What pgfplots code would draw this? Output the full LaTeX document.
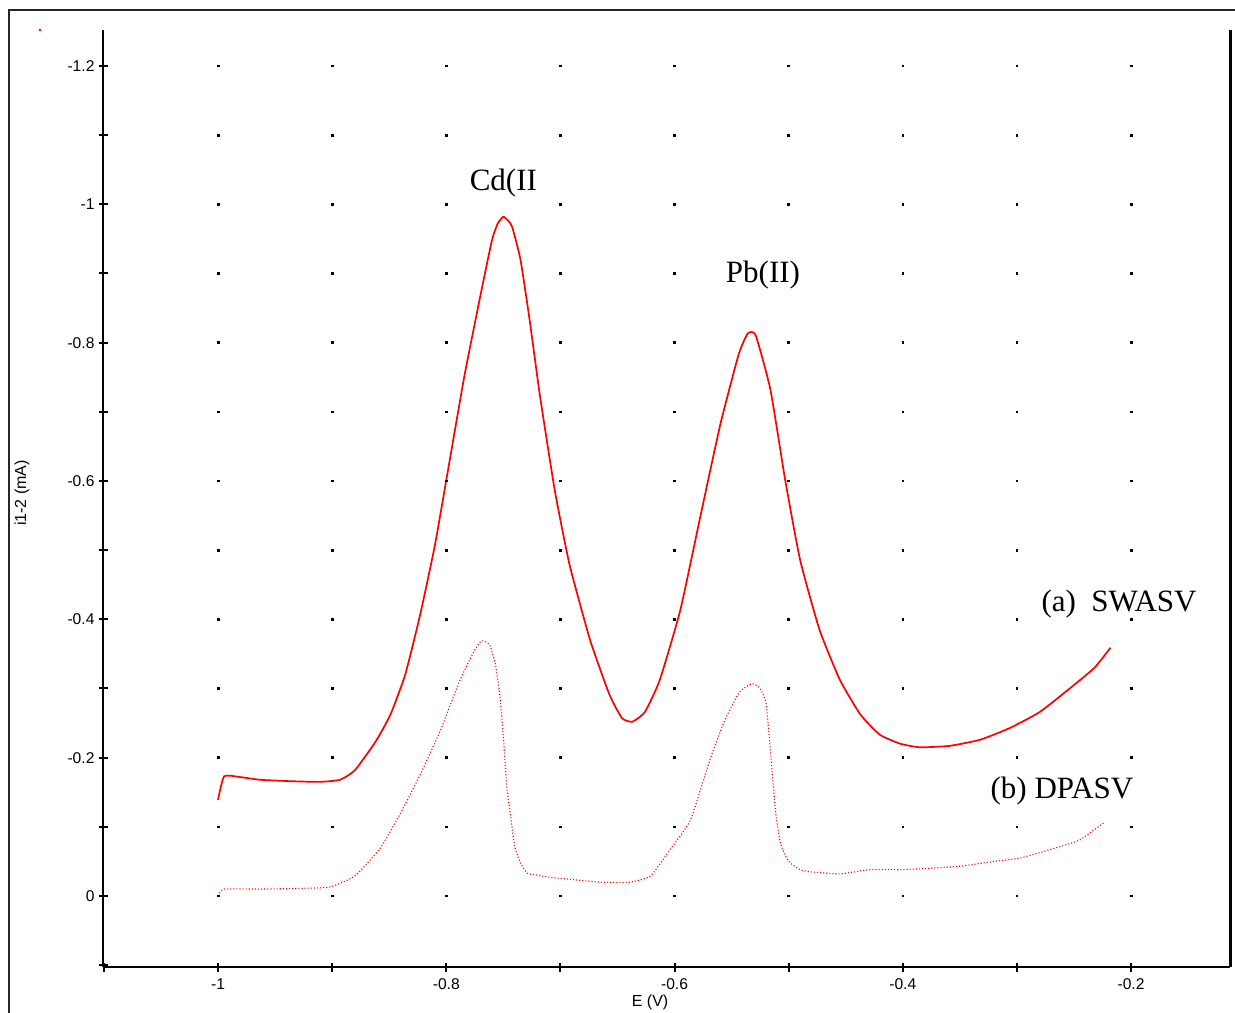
\documentclass[border=0pt]{standalone}
\usepackage{fontspec}
\setmainfont{Liberation Serif}
\newfontfamily\arial{Liberation Sans}
\usepackage{pgfplots}
\pgfplotsset{compat=1.18}
\begin{document}
\begin{tikzpicture}
\useasboundingbox (-51.5pt,-22.5pt) rectangle (566pt,483.5pt);
\draw[line width=1pt, black!85] (-47pt,-40pt) -- (-47pt,478.5pt) -- (590pt,478.5pt);
\begin{axis}[
 at={(0,0)}, anchor=south west,
 scale only axis, width=563.5pt, height=468.5pt,
 xmin=-1.1008, xmax=-0.1133, ymin=-1.252, ymax=0.1027, y dir=reverse,
 axis x line*=bottom, axis y line*=left,
 axis line style={-, line width=1pt, black},
 xtick={-1,-0.8,-0.6,-0.4,-0.2}, minor xtick={-1.1,-0.9,-0.7,-0.5,-0.3},
 ytick={-1.2,-1,-0.8,-0.6,-0.4,-0.2,0}, minor ytick={-1.1,-0.9,-0.7,-0.5,-0.3,-0.1,0.1},
 tick align=center, major tick length=4.5pt, minor tick length=4.5pt,
 every tick/.style={black, line width=1pt},
 tick label style={font=\arial\fontsize{7.8}{9}\selectfont},
 yticklabel style={xshift=1.5pt},
 /pgf/number format/assume math mode=true,
 xlabel={E (V)}, ylabel={i1-2 (mA)},
 label style={font=\arial\fontsize{8}{9}\selectfont},
 xlabel style={at={(axis description cs:0.4854,-0.0374)}, anchor=center},
 ylabel style={at={(axis description cs:-0.0719,0.506)}, anchor=center},
 clip=false,
]
\pgfplotsinvokeforeach{-1.2,-1.1,-1.0,-0.8,-0.7,-0.6,-0.5,-0.4,-0.3,-0.2,-0.1,0}{
 \addplot[only marks, mark=square*, mark size=0.45pt, black, samples at={-1,-0.9,-0.8,-0.7,-0.6,-0.5,-0.4,-0.3,-0.2}] {#1};
}
\addplot[only marks, mark=square*, mark size=0.45pt, black, samples at={-1,-0.9,-0.8,-0.7,-0.6,-0.4,-0.3,-0.2}] {-0.9};
\addplot[red, line width=0.85pt, smooth, tension=0.3] coordinates {
(-1.000,-0.139) (-0.9947,-0.173) (-0.981,-0.172) (-0.963,-0.168) (-0.937,-0.166)
(-0.911,-0.165) (-0.893,-0.168) (-0.880,-0.182) (-0.862,-0.223) (-0.849,-0.262)
(-0.836,-0.320) (-0.823,-0.406) (-0.810,-0.507) (-0.797,-0.630) (-0.784,-0.753)
(-0.770,-0.869) (-0.760,-0.948) (-0.755,-0.972) (-0.750,-0.982) (-0.745,-0.975)
(-0.742,-0.966) (-0.735,-0.920) (-0.727,-0.833) (-0.718,-0.724) (-0.705,-0.587)
(-0.692,-0.479) (-0.674,-0.370) (-0.657,-0.291) (-0.646,-0.257) (-0.637,-0.252)
(-0.626,-0.266) (-0.613,-0.312) (-0.595,-0.413) (-0.578,-0.544) (-0.560,-0.681)
(-0.544,-0.782) (-0.536,-0.813) (-0.529,-0.811) (-0.516,-0.732) (-0.503,-0.601)
(-0.490,-0.486) (-0.473,-0.385) (-0.455,-0.312) (-0.437,-0.262) (-0.420,-0.233)
(-0.402,-0.220) (-0.385,-0.215) (-0.359,-0.217) (-0.332,-0.226) (-0.306,-0.243)
(-0.280,-0.266) (-0.253,-0.301) (-0.232,-0.330) (-0.218,-0.359)
};
\addplot[red, line width=0.55pt, densely dotted, smooth, tension=0.3] coordinates {
(-1.000,0.000) (-0.9947,-0.010) (-0.963,-0.010) (-0.928,-0.011) (-0.902,-0.013)
(-0.880,-0.029) (-0.858,-0.069) (-0.841,-0.117) (-0.823,-0.175) (-0.805,-0.240)
(-0.788,-0.312) (-0.775,-0.356) (-0.769,-0.369) (-0.762,-0.363) (-0.757,-0.335)
(-0.753,-0.289) (-0.750,-0.230) (-0.747,-0.158) (-0.744,-0.120) (-0.740,-0.071)
(-0.735,-0.048) (-0.729,-0.033) (-0.720,-0.030) (-0.709,-0.027) (-0.697,-0.025)
(-0.665,-0.020) (-0.639,-0.020) (-0.621,-0.029) (-0.604,-0.067) (-0.586,-0.110)
(-0.569,-0.197) (-0.556,-0.254) (-0.543,-0.295) (-0.532,-0.307) (-0.525,-0.300)
(-0.520,-0.280) (-0.517,-0.230) (-0.514,-0.170) (-0.511,-0.115) (-0.507,-0.075)
(-0.500,-0.050) (-0.490,-0.038) (-0.481,-0.035) (-0.455,-0.032) (-0.429,-0.038)
(-0.402,-0.038) (-0.376,-0.040) (-0.350,-0.043) (-0.324,-0.049) (-0.297,-0.055)
(-0.271,-0.067) (-0.245,-0.081) (-0.223,-0.107)
};
\addplot[only marks, mark=*, mark size=0.35pt, red] coordinates {(-1.156,-1.252)};
\draw[line width=1.5pt, black] (rel axis cs:1,0) -- (rel axis cs:1,1);
\node[font=\fontsize{15.5}{18}\selectfont] at (axis cs:-0.750,-1.031) {Cd(II};
\node[font=\fontsize{15.5}{18}\selectfont] at (axis cs:-0.5225,-0.898) {Pb(II)};
\node[font=\fontsize{15.5}{18}\selectfont] at (axis cs:-0.2105,-0.422) {(a)\ \ SWASV};
\node[font=\fontsize{15.5}{18}\selectfont] at (axis cs:-0.2605,-0.152) {(b) DPASV};
\end{axis}
\end{tikzpicture}
\end{document}
